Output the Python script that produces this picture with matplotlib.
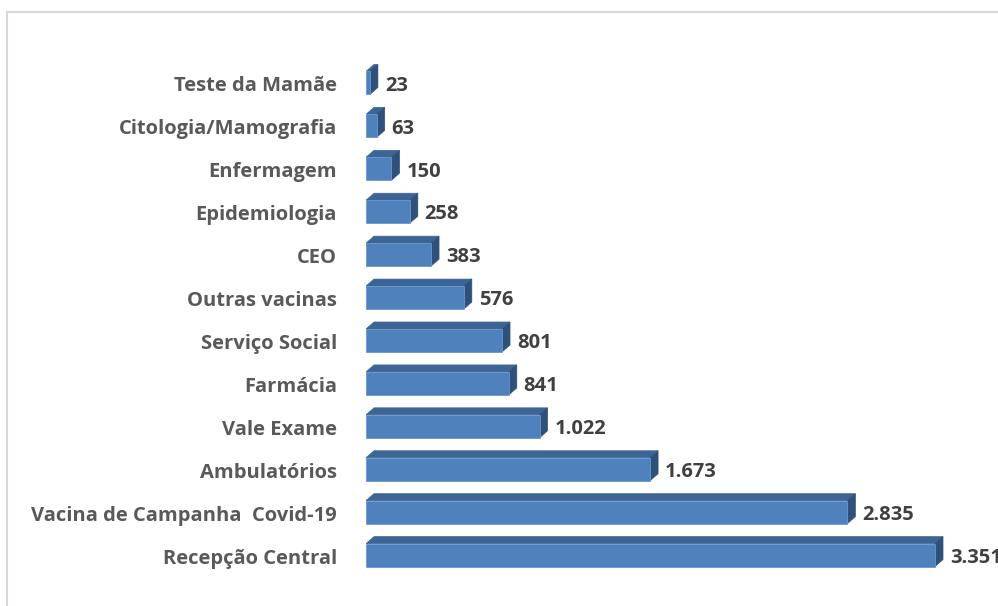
import numpy as np
import matplotlib
matplotlib.use('Agg')
import matplotlib.pyplot as plt
from matplotlib.patches import Polygon, Rectangle

categories = ['Recepção Central', 'Vacina de Campanha  Covid-19', 'Ambulatórios',
              'Vale Exame', 'Farmácia', 'Serviço Social', 'Outras vacinas', 'CEO',
              'Epidemiologia', 'Enfermagem', 'Citologia/Mamografia', 'Teste da Mamãe']
values = [3351, 2835, 1673, 1022, 841, 801, 576, 383, 258, 150, 63, 23]
labels = ['3.351', '2.835', '1.673', '1.022', '841', '801', '576', '383',
          '258', '150', '63', '23']

W, H = 998, 606
fig = plt.figure(figsize=(W / 100, H / 100), dpi=100)

# chart border (only top and left visible, rest cut off)
fig.add_artist(plt.Line2D([7 / W, 7 / W], [0, 1 - 12 / H], color='#d9d9d9', lw=1.5))
fig.add_artist(plt.Line2D([7 / W, 1], [1 - 12 / H, 1 - 12 / H], color='#d9d9d9', lw=1.5))

ax_left = 366
ax_bottom = 8
ax_h = 558
ax = fig.add_axes([ax_left / W, ax_bottom / H, (W - ax_left) / W, ax_h / H])
px_per_unit = 569 / 3351
xmax = (W - ax_left) / px_per_unit
ax.set_xlim(0, xmax)
ax.set_ylim(-1, 12)
ax.axis('off')

bar_h = 23 / 43
dx = 8 / px_per_unit
dy = 7 / 43
front = '#4f81bd'
top = '#3c6596'
side = '#2f5079'

for i, (v, lab) in enumerate(zip(values, labels)):
    y0 = i - bar_h / 2
    y1 = i + bar_h / 2
    ax.add_patch(Polygon([(0, y1), (dx, y1 + dy), (v + dx, y1 + dy), (v, y1)],
                         closed=True, facecolor=top, edgecolor=top, lw=0.5))
    ax.add_patch(Polygon([(v, y0), (v, y1), (v + dx, y1 + dy), (v + dx, y0 + dy)],
                         closed=True, facecolor=side, edgecolor=side, lw=0.5))
    ax.add_patch(Rectangle((0, y0), v, bar_h, facecolor=front, edgecolor='#6a96cc', lw=0.6))
    ax.annotate(lab, (v + dx, i), xytext=(5, -2), textcoords='offset points',
                ha='left', va='center', fontsize=14.5, fontweight='bold',
                family='Open Sans', color='#404040', annotation_clip=False)
    ax.annotate(categories[i], (0, i), xytext=(-21, -2.5), textcoords='offset points',
                ha='right', va='center', fontsize=14.5, fontweight='bold',
                family='Open Sans', color='#595959', annotation_clip=False)

fig.savefig('out.png', dpi=100)
